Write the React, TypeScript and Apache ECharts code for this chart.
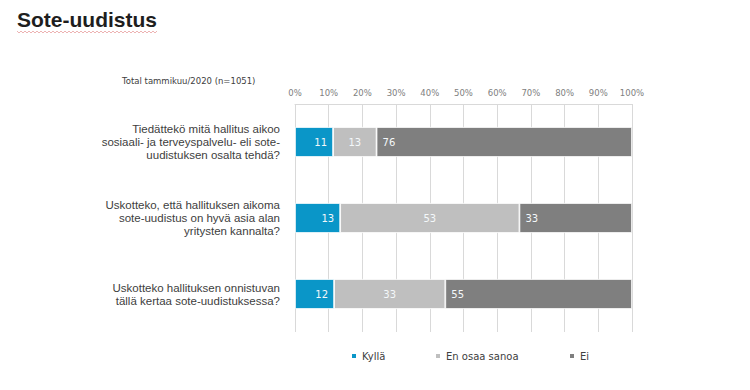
import React, { useEffect, useRef } from "react";
import * as echarts from "echarts";

const categories = [
  "Tiedättekö mitä hallitus aikoo\nsosiaali- ja terveyspalvelu- eli sote-\nuudistuksen osalta tehdä?",
  "Uskotteko, että hallituksen aikoma\nsote-uudistus on hyvä asia alan\nyritysten kannalta?",
  "Uskotteko hallituksen onnistuvan\ntällä kertaa sote-uudistuksessa?",
];
const seriesNames = ["Kyllä", "En osaa sanoa", "Ei"];
const kylla = [11.3, 13.4, 11.6];
const eos = [12.9, 53.2, 33.0];
const ei = [75.8, 33.4, 55.4];
const titleText = "Sote-uudistus";
const subtitleText = "Total tammikuu/2020 (n=1051)";

const COLORS = ["#0a96c8", "#bfbfbf", "#7f7f7f"];
const VFONT = "DejaVu Sans";

export default function App() {
  const ref = useRef<HTMLDivElement>(null);
  useEffect(() => {
    document.body.style.margin = "0";
    if (!ref.current) return;
    const chart = echarts.init(ref.current, null, { renderer: "svg" });
    const wave: number[][] = [];
    for (let x = 17; x <= 157; x += 2) {
      wave.push([x, (x - 17) % 4 === 0 ? 31 : 33]);
    }
    const positions = ["insideRight", "inside", "insideLeft"];
    const datas = [kylla, eos, ei];
    chart.setOption({
      animation: false,
      backgroundColor: "#ffffff",
      graphic: [
        {
          type: "text",
          left: 17,
          top: 9,
          style: {
            text: titleText,
            font: "bold 21px 'Liberation Sans', Arial, sans-serif",
            fill: "#1e1e1e",
          },
        },
        {
          type: "polyline",
          shape: { points: wave },
          style: { stroke: "#e8a0a0", lineWidth: 0.8, fill: "none" },
        },
        {
          type: "text",
          left: 122,
          top: 76,
          style: {
            text: subtitleText,
            font: `8.5px '${VFONT}', sans-serif`,
            fill: "#404040",
          },
        },
      ],
      legend: seriesNames.map((n, i) => ({
        data: [n],
        left: [345, 429, 563][i],
        top: 346,
        icon: "rect",
        itemWidth: 6,
        itemHeight: 6,
        itemGap: 5,
        textStyle: { fontFamily: VFONT, fontSize: 10, color: "#404040" },
      })),
      grid: { left: 295, right: 118, top: 104, bottom: 58 },
      xAxis: {
        type: "value",
        position: "top",
        min: 0,
        max: 100,
        interval: 10,
        axisLine: { show: true, lineStyle: { color: "#d9d9d9" } },
        axisTick: { show: false },
        splitLine: { show: true, lineStyle: { color: "#d9d9d9" } },
        axisLabel: {
          formatter: "{value}%",
          fontFamily: VFONT,
          fontSize: 8.5,
          color: "#808080",
          margin: 7,
        },
      },
      yAxis: {
        type: "category",
        inverse: true,
        data: categories,
        axisLine: { show: false },
        axisTick: { show: false },
        axisLabel: {
          fontFamily: "'Liberation Sans', Arial, sans-serif",
          fontSize: 11.5,
          lineHeight: 13,
          color: "#404040",
          margin: 15,
          align: "right",
        },
      },
      series: seriesNames.map((n, i) => ({
        name: n,
        type: "bar",
        stack: "total",
        barWidth: 30,
        data: datas[i],
        itemStyle: { color: COLORS[i], borderColor: "#ffffff", borderWidth: 0.8 },
        label: {
          show: true,
          position: positions[i],
          distance: 6,
          formatter: (p: any) => String(Math.round(p.value)),
          fontFamily: VFONT,
          fontSize: 10,
          color: "#f4f8fa",
        },
      })),
    });
    return () => chart.dispose();
  }, []);
  return <div ref={ref} style={{ width: 750, height: 390 }} />;
}
